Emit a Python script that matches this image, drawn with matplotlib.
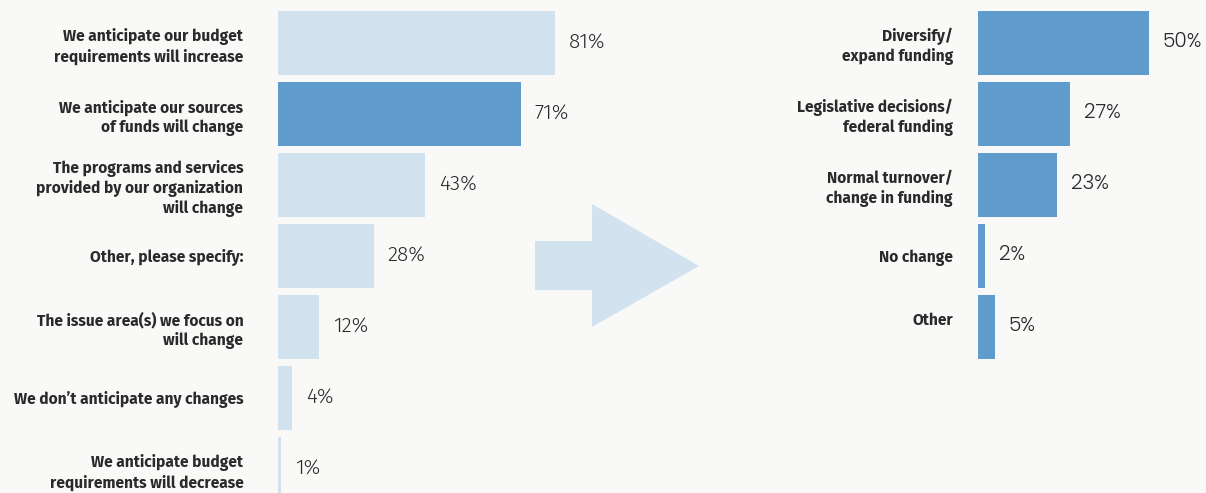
import matplotlib.pyplot as plt
from matplotlib.patches import Polygon

# Left panel: expected changes
left_labels = [
    "We anticipate our budget\nrequirements will increase",
    "We anticipate our sources\nof funds will change",
    "The programs and services\nprovided by our organization\nwill change",
    "Other, please specify:",
    "The issue area(s) we focus on\nwill change",
    "We don\u2019t anticipate any changes",
    "We anticipate budget\nrequirements will decrease",
]
left_values = [81, 71, 43, 28, 12, 4, 1]
left_highlight = [False, True, False, False, False, False, False]

# Right panel: reasons for funding source change
right_labels = [
    "Diversify/\nexpand funding",
    "Legislative decisions/\nfederal funding",
    "Normal turnover/\nchange in funding",
    "No change",
    "Other\n",
]
right_values = [50, 27, 23, 2, 5]

BG = "#f9f9f8"
LIGHT = "#d2e2ee"
DARK = "#5f9bcc"
TEXT = "#2a2a2a"

W, H = 1206, 493
PX_PER_PCT = 3.42
ROW = 71.0
FIRST_CENTER = 43.0

label_font = ["Fira Sans", "DejaVu Sans"]

fig = plt.figure(figsize=(W / 100, H / 100), dpi=100)
fig.patch.set_facecolor(BG)


def panel(x0, width, labels, values, colors, pad, value_font, value_size):
    ax = fig.add_axes([x0 / W, 0, width / W, 1])
    ax.set_facecolor("none")
    n = len(values)
    ax.barh(range(n), values, height=64 / ROW, color=colors, linewidth=0)
    ax.set_xlim(0, width / PX_PER_PCT)
    ax.set_ylim((H - FIRST_CENTER) / ROW, -FIRST_CENTER / ROW)
    ax.set_yticks(range(n), labels)
    ax.tick_params(axis="y", length=0, pad=pad)
    for t in ax.get_yticklabels():
        t.set_fontfamily(label_font)
        t.set_fontweight("bold")
        t.set_fontsize(11.2)
        t.set_color(TEXT)
        t.set_linespacing(1.25)
    ax.set_xticks([])
    for s in ax.spines.values():
        s.set_visible(False)
    for i, v in enumerate(values):
        ax.annotate(f"{v}%", (v, i), xytext=(10, 1), textcoords="offset points",
                    ha="left", va="center", fontsize=value_size, color=TEXT,
                    family=value_font, fontweight=300)
    return ax


panel(278, 400, left_labels, left_values,
      [DARK if h else LIGHT for h in left_highlight], pad=25,
      value_font=["Fira Sans", "DejaVu Sans"], value_size=15)
panel(978, 228, right_labels, right_values, [DARK] * len(right_values), pad=18,
      value_font=["Poppins", "DejaVu Sans"], value_size=14.5)

# connecting arrow between the two panels (pixel coords from the top-left)
arrow_px = [(535, 241), (592, 241), (592, 204), (699, 266),
            (592, 327), (592, 290), (535, 290)]
arrow = Polygon([(x / W, 1 - y / H) for x, y in arrow_px], closed=True,
                facecolor=LIGHT, edgecolor="none", transform=fig.transFigure)
fig.patches.append(arrow)

fig.savefig("out.png", dpi=100, facecolor=BG)
